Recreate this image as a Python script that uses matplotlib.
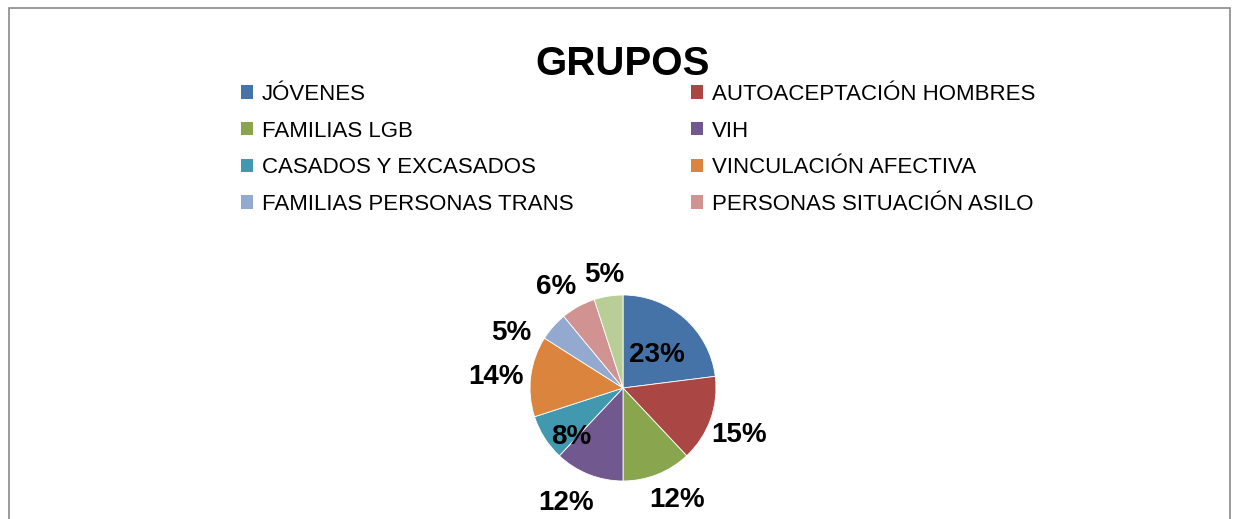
import matplotlib
matplotlib.use("Agg")
import matplotlib.pyplot as plt
from matplotlib.patches import Rectangle, Patch
import numpy as np

plt.rcParams['font.family'] = ['Liberation Sans', 'DejaVu Sans']

# datos
categorias = ["JÓVENES", "AUTOACEPTACIÓN HOMBRES", "FAMILIAS LGB", "VIH",
              "CASADOS Y EXCASADOS", "VINCULACIÓN AFECTIVA",
              "FAMILIAS PERSONAS TRANS", "PERSONAS SITUACIÓN ASILO"]
valores = [23, 15, 12, 12, 8, 14, 5, 6, 5]
colores = ["#4572A7", "#AA4643", "#89A54E", "#71588F", "#4198AF",
           "#DB843D", "#93A9CF", "#D19392", "#B9CD96"]
# colocacion de etiquetas: distancia (en radios) y giro respecto al centro de la porcion
dist_etiquetas = [0.53, 1.34, 1.31, 1.35, 0.74, 1.37, 1.35, 1.33, 1.26]
giro_etiquetas = [-2, -1, 5, -5.5, 9, 1, 14, 4, 0]

W, H = 1237, 519
fig = plt.figure(figsize=(W / 100, H / 100), dpi=100)

# marco del grafico
fig.patches.append(Rectangle((9 / W, -0.1), (1230 - 9) / W, 1.1 - 8 / H,
                             transform=fig.transFigure, fill=False,
                             edgecolor="#8a8a8a", linewidth=1.2))

fig.text(623 / W, 1 - 75 / H, "GRUPOS", ha="center", va="baseline",
         fontsize=29, fontweight="bold")

# tarta
cx, cy, R = 623, H - 388, 93
lado = 320
ax = fig.add_axes([(cx - lado / 2) / W, (cy - lado / 2) / H, lado / W, lado / H])
s = lado / (2 * R)
wedges, _ = ax.pie(valores, colors=colores, startangle=90, counterclock=False,
                   radius=1, wedgeprops=dict(edgecolor="white", linewidth=0.6))
ax.set_xlim(-s, s)
ax.set_ylim(-s, s)
ax.set_aspect("equal")
ax.axis("off")

for w, v, d, g in zip(wedges, valores, dist_etiquetas, giro_etiquetas):
    ang = np.deg2rad((w.theta1 + w.theta2) / 2 + g)
    ax.text(d * np.cos(ang), d * np.sin(ang), f"{v}%", ha="center",
            va="center_baseline", fontsize=20, fontweight="bold", clip_on=False)

# leyenda en dos columnas
for col, x0 in enumerate([241, 691]):
    idx = range(col, len(categorias), 2)
    handles = [Patch(facecolor=colores[i], edgecolor="none") for i in idx]
    labels = [categorias[i] for i in idx]
    fig.legend(handles, labels, loc="upper left",
               bbox_to_anchor=(x0 / W, 1 - 84 / H), frameon=False,
               fontsize=16, handlelength=0.55, handleheight=0.55,
               handletextpad=0.4, labelspacing=0.7, borderpad=0,
               borderaxespad=0)

fig.savefig("out.png", dpi=100)
